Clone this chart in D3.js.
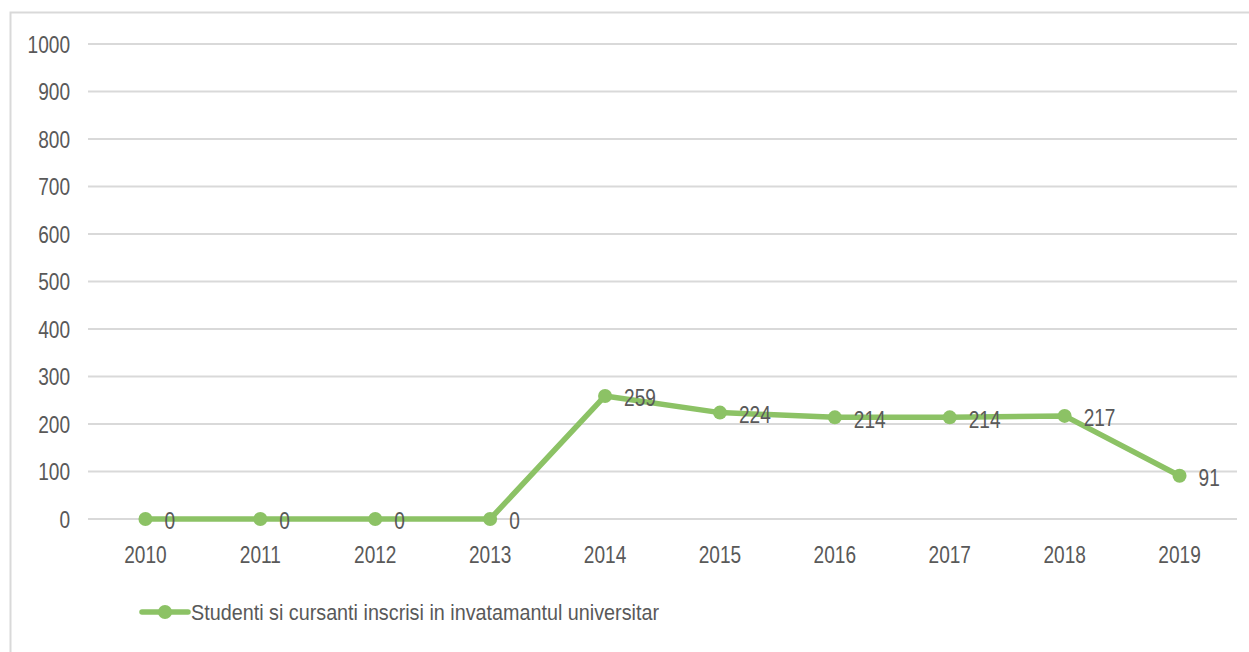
<!DOCTYPE html>
<html><head><meta charset="utf-8">
<script src="https://cdn.jsdelivr.net/npm/d3@7"></script>
<style>
html,body{margin:0;padding:0;background:#fff;}
svg{display:block;}
text{font-family:"Liberation Sans",Arial,sans-serif;fill:#595959;}
</style></head>
<body>
<svg id="c" width="1249" height="652"></svg>
<script>
const categories = ["2010","2011","2012","2013","2014","2015","2016","2017","2018","2019"];
const values = [0,0,0,0,259,224,214,214,217,91];
const yTicks = [0,100,200,300,400,500,600,700,800,900,1000];
const seriesName = "Studenti si cursanti inscrisi in invatamantul universitar";

const svg = d3.select("#c");
const green = "#8cc265";
const SX = 0.83; // horizontal condensing of text

svg.append("rect").attr("x",10.5).attr("y",12.5).attr("width",1260).attr("height",700)
  .attr("fill","none").attr("stroke","#d9d9d9").attr("stroke-width",2);

const x = d3.scaleBand().domain(categories).range([88,1237]);
const y = d3.scaleLinear().domain([0,1000]).range([519,44]);

const grid = svg.append("g");
grid.selectAll("line").data(yTicks).join("line")
  .attr("x1",88).attr("x2",1237)
  .attr("y1",d=>y(d)).attr("y2",d=>y(d))
  .attr("stroke","#d9d9d9").attr("stroke-width",2);

const yAxis = svg.append("g").attr("transform","translate(70,0)")
  .call(d3.axisLeft(y).tickValues(yTicks).tickFormat(d3.format("d")).tickSize(0).tickPadding(0));
yAxis.select(".domain").remove();
yAxis.selectAll("text").attr("font-size",23).attr("font-family",null).attr("fill","#595959")
  .attr("dy","0.35em").attr("transform",`scale(${SX},1)`);

const xAxis = svg.append("g").attr("transform","translate(0,546)")
  .call(d3.axisBottom(x).tickSize(0).tickPadding(0));
xAxis.select(".domain").remove();
xAxis.selectAll("text").attr("font-size",23).attr("font-family",null).attr("fill","#595959")
  .attr("dy","0.75em").attr("transform",`scale(${SX},1)`);

const cx = d => x(d) + x.bandwidth()/2;
const line = d3.line().x((d,i)=>cx(categories[i])).y(d=>y(d));
svg.append("path").datum(values).attr("d",line)
  .attr("fill","none").attr("stroke",green).attr("stroke-width",5.5).attr("stroke-linejoin","round");

svg.selectAll("circle.pt").data(values).join("circle").attr("class","pt")
  .attr("cx",(d,i)=>cx(categories[i])).attr("cy",d=>y(d)).attr("r",7).attr("fill",green);

svg.selectAll("g.lbl").data(values).join("g").attr("class","lbl")
  .attr("transform",(d,i)=>`translate(${cx(categories[i])+19},${y(d)+2})`)
  .append("text").attr("dominant-baseline","central").attr("font-size",23)
  .attr("transform",`scale(${SX},1)`)
  .attr("fill","#404040").text(d=>d);

const lg = svg.append("g");
lg.append("line").attr("x1",142).attr("x2",188).attr("y1",612).attr("y2",612)
  .attr("stroke",green).attr("stroke-width",5.5).attr("stroke-linecap","round");
lg.append("circle").attr("cx",165).attr("cy",612).attr("r",7).attr("fill",green);
lg.append("text").attr("x",191).attr("y",612).attr("dominant-baseline","central")
  .attr("font-size",22).attr("textLength",468).attr("lengthAdjust","spacingAndGlyphs").text(seriesName);
</script>
</body></html>
